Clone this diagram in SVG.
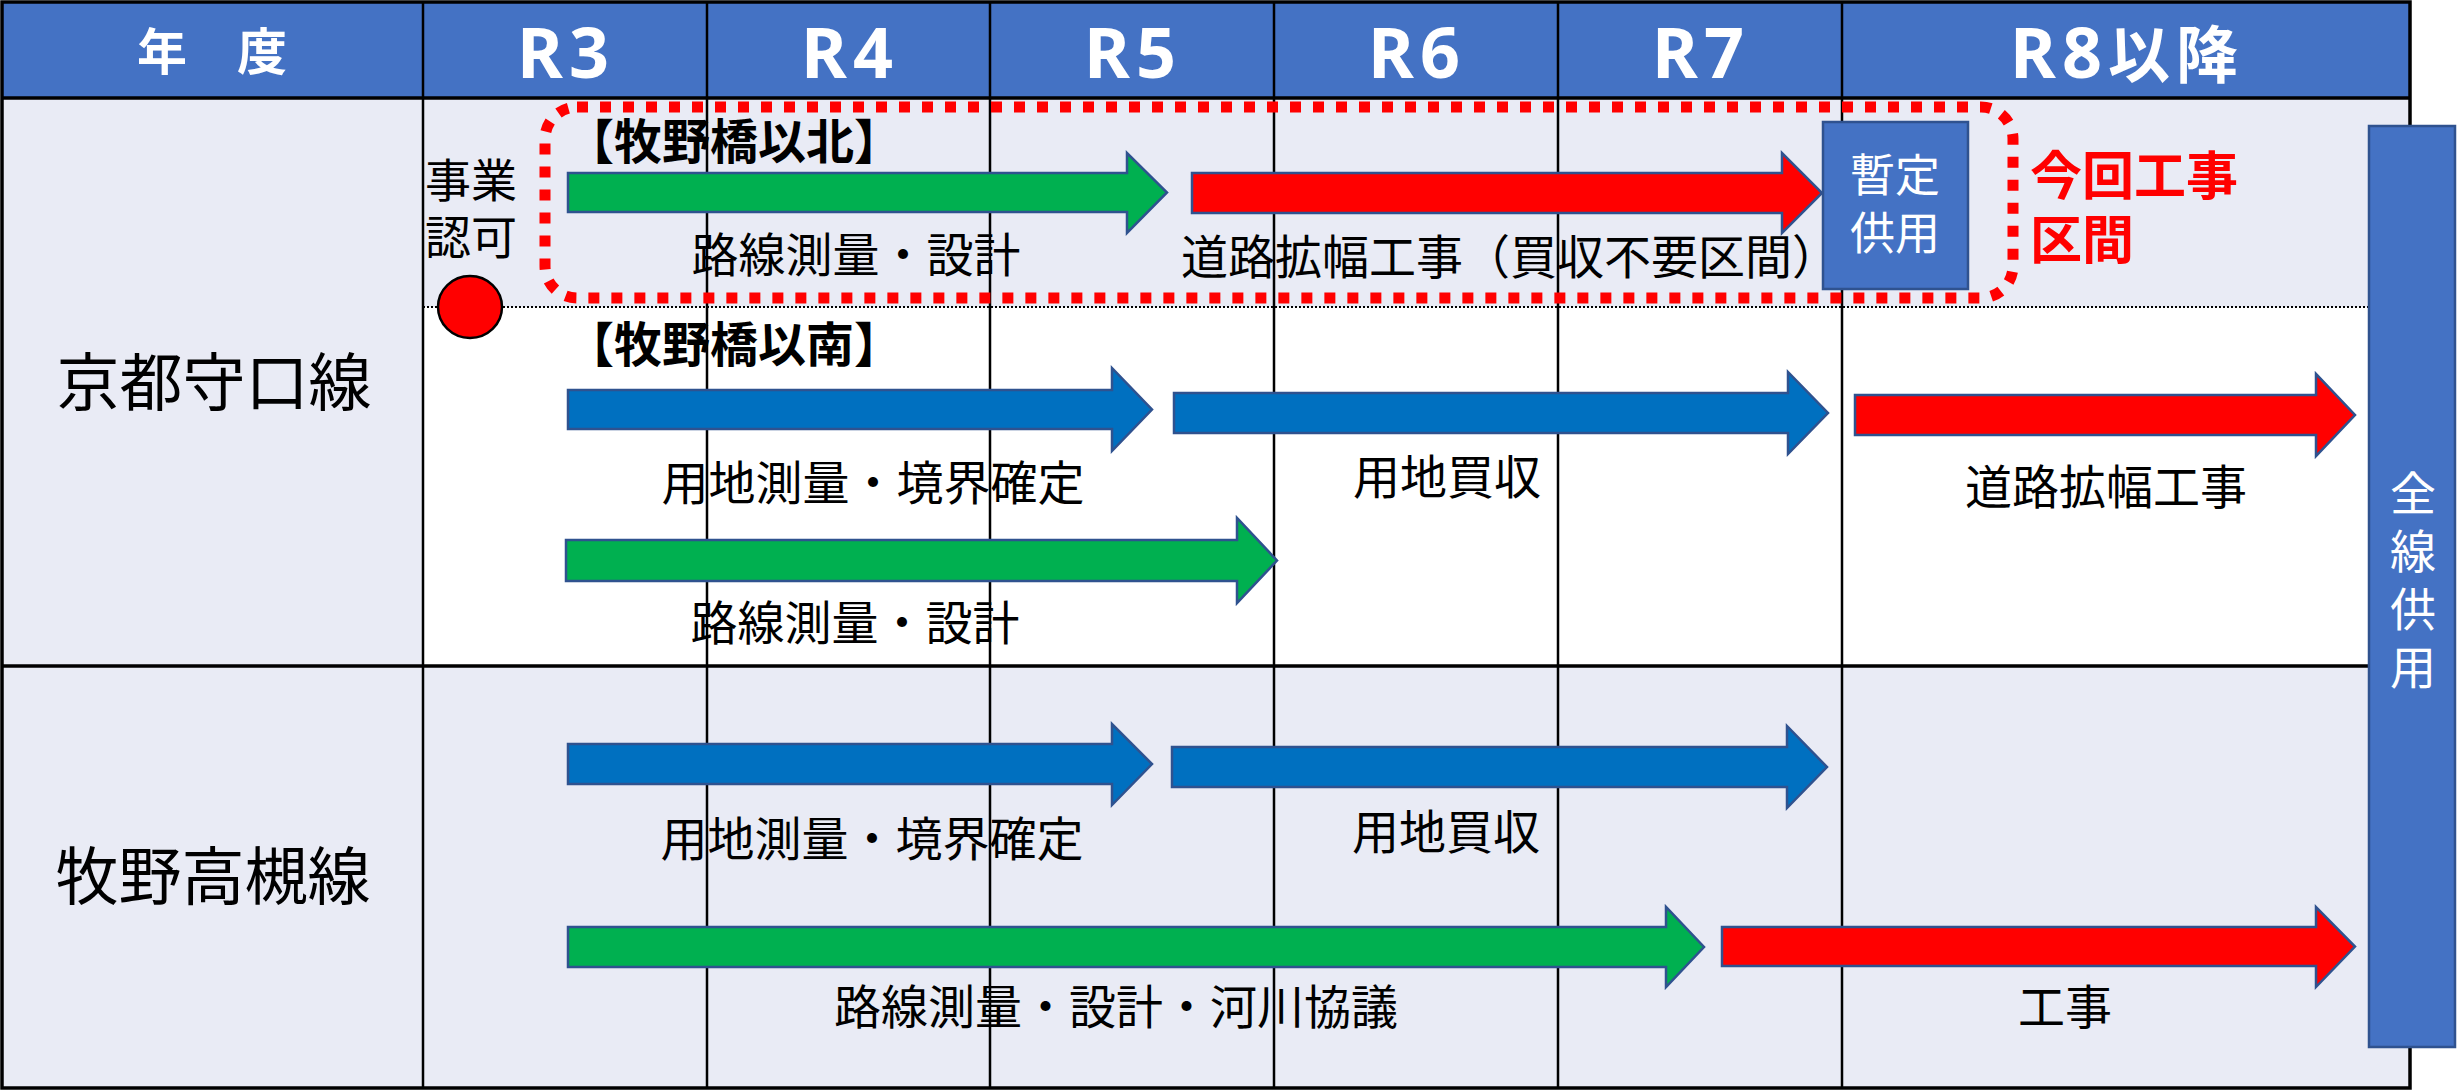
<svg xmlns="http://www.w3.org/2000/svg" width="2458" height="1090" viewBox="0 0 2458 1090">
<style>
.bgL{fill:#E9EBF5}
.hdr{fill:#4472C4}
.vl{stroke:#000;stroke-width:2.5}
.hl{stroke:#000;stroke-width:3.5}
.ht{font-family:"Noto Sans CJK JP","Noto Sans",sans-serif;font-weight:bold;fill:#fff;text-anchor:middle}
.hr{font-family:"Noto Sans","Noto Sans CJK JP",sans-serif;font-weight:bold;fill:#fff;text-anchor:middle;font-size:70px;letter-spacing:6px}
.t{font-family:"Noto Sans CJK JP",sans-serif;fill:#000;font-size:47px}
.c{text-anchor:middle}
.bold{font-weight:bold}
.arrow{stroke:#2F528F;stroke-width:2.5;stroke-linejoin:miter}
.g{fill:#00B050}.b{fill:#0070C0}.r{fill:#FF0000}
.box{fill:#4472C4;stroke:#2F528F;stroke-width:2.5}
.wt{font-family:"Noto Sans CJK JP",sans-serif;fill:#fff;text-anchor:middle}
</style>
<g id="table">
<rect class="hdr" x="2" y="2" width="2408" height="96"/>
<rect class="bgL" x="2" y="98" width="421" height="990"/>
<rect class="bgL" x="423" y="98" width="1987" height="209"/>
<rect fill="#FFFFFF" x="423" y="307" width="1987" height="359"/>
<rect class="bgL" x="423" y="666" width="1987" height="422"/>
<line class="vl" x1="423" y1="2" x2="423" y2="1088"/>
<line class="vl" x1="707" y1="2" x2="707" y2="1088"/>
<line class="vl" x1="990" y1="2" x2="990" y2="1088"/>
<line class="vl" x1="1274" y1="2" x2="1274" y2="1088"/>
<line class="vl" x1="1558" y1="2" x2="1558" y2="1088"/>
<line class="vl" x1="1842" y1="2" x2="1842" y2="1088"/>
<line class="hl" x1="2" y1="98" x2="2410" y2="98"/>
<line class="hl" x1="2" y1="666" x2="2410" y2="666"/>
<rect x="2" y="2" width="2408" height="1086" fill="none" stroke="#000" stroke-width="3.5"/>
<line x1="423" y1="307" x2="2369" y2="307" stroke="#000" stroke-width="2" stroke-dasharray="2 2"/>
</g>
<g id="header-text">
<text class="ht" x="212" y="70" font-size="50">年　度</text>
<text class="hr" x="566" y="78">R3</text>
<text class="hr" x="850" y="78">R4</text>
<text class="hr" x="1133" y="78">R5</text>
<text class="hr" x="1417" y="78">R6</text>
<text class="hr" x="1701" y="78">R7</text>
<text class="hr" x="2127" y="78">R8<tspan font-family="Noto Sans CJK JP, sans-serif" font-size="62">以降</tspan></text>
</g>
<g id="row-labels">
<text class="t c" x="214" y="405" style="font-size:63px">京都守口線</text>
<text class="t c" x="213" y="899" style="font-size:63px">牧野高槻線</text>
</g>
<g id="north-zone">
<rect x="545" y="107" width="1468" height="191" rx="32" ry="32" fill="none" stroke="#FF0000" stroke-width="11" stroke-dasharray="11 12"/>
<text class="t bold" x="566" y="159" style="font-size:48px">【牧野橋以北】</text>
<text x="2030" y="195" font-family="Noto Sans CJK JP, sans-serif" font-weight="bold" font-size="52" fill="#FF0000">今回工事</text>
<text x="2030" y="259" font-family="Noto Sans CJK JP, sans-serif" font-weight="bold" font-size="52" fill="#FF0000">区間</text>
</g>
<g id="approval">
<text class="t" x="425" y="197" style="font-size:46px">事業</text>
<text class="t" x="425" y="254" style="font-size:46px">認可</text>
<ellipse cx="470" cy="307" rx="32" ry="31" fill="#FF0000" stroke="#000" stroke-width="2.5"/>
</g>
<g id="bars">
<g id="n-survey"><polygon class="arrow g" points="568,173 1127,173 1127,153 1167,192.5 1127,233 1127,212 568,212"/><text class="t c" x="856" y="272">路線測量・設計</text></g>
<g id="n-widen"><polygon class="arrow r" points="1192,173 1782,173 1782,153 1822,193 1782,233 1782,213 1192,213"/><text class="t c" x="1510" y="274">道路拡幅工事（買収不要区間）</text></g>
<g id="s-title"><text class="t bold" x="566" y="362" style="font-size:48px">【牧野橋以南】</text></g>
<g id="s-land-survey"><polygon class="arrow b" points="568,390 1112,390 1112,368 1152,409.5 1112,451 1112,429 568,429"/><text class="t c" x="873" y="500">用地測量・境界確定</text></g>
<g id="s-land-buy"><polygon class="arrow b" points="1174,393 1788,393 1788,372 1828,413 1788,454 1788,433 1174,433"/><text class="t c" x="1447" y="494">用地買収</text></g>
<g id="s-widen"><polygon class="arrow r" points="1855,395 2316,395 2316,374 2355,415 2316,456 2316,435 1855,435"/><text class="t c" x="2106" y="504">道路拡幅工事</text></g>
<g id="s-survey"><polygon class="arrow g" points="566,540 1237,540 1237,518 1277,560.5 1237,603 1237,581 566,581"/><text class="t c" x="855" y="640">路線測量・設計</text></g>
<g id="m-land-survey"><polygon class="arrow b" points="568,744 1112,744 1112,724 1152,764 1112,805 1112,784 568,784"/><text class="t c" x="872" y="856">用地測量・境界確定</text></g>
<g id="m-land-buy"><polygon class="arrow b" points="1172,747 1787,747 1787,726 1827,767 1787,808 1787,787 1172,787"/><text class="t c" x="1446" y="849">用地買収</text></g>
<g id="m-survey"><polygon class="arrow g" points="568,927 1666,927 1666,907 1704,947 1666,987 1666,967 568,967"/><text class="t c" x="1116" y="1024">路線測量・設計・河川協議</text></g>
<g id="m-work"><polygon class="arrow r" points="1722,927 2316,927 2316,907 2355,946.5 2316,987 2316,966 1722,966"/><text class="t c" x="2065" y="1024">工事</text></g>
</g>
<g id="temp-open">
<rect class="box" x="1823" y="122" width="145" height="167"/>
<text class="wt" x="1895" y="192" font-size="45">暫定</text>
<text class="wt" x="1895" y="250" font-size="45">供用</text>
</g>
<g id="full-open">
<rect class="box" x="2369" y="126" width="86" height="921"/>
<text x="2413" y="470" font-family="Noto Sans CJK JP, sans-serif" font-size="46" fill="#fff" writing-mode="vertical-rl" letter-spacing="12">全線供用</text>
</g>
</svg>
